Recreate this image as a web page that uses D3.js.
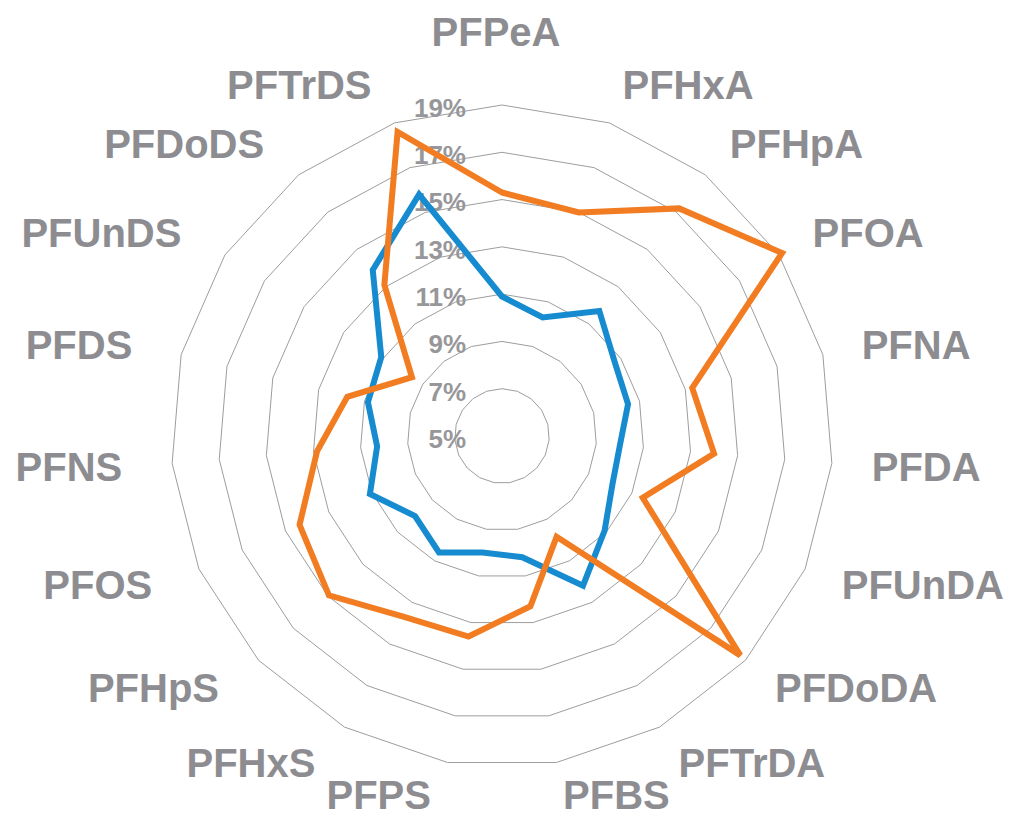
<!DOCTYPE html>
<html>
<head>
<meta charset="utf-8">
<script src="https://cdn.jsdelivr.net/npm/d3@7/dist/d3.min.js"></script>
<style>
  html, body { margin: 0; padding: 0; background: #ffffff; }
  svg { display: block; }
</style>
</head>
<body>
<svg id="chart" width="1010" height="818"></svg>
<script>
const categories = ["PFPeA","PFHxA","PFHpA","PFOA","PFNA","PFDA","PFUnDA","PFDoDA","PFTrDA","PFBS","PFPS","PFHxS","PFHpS","PFOS","PFNS","PFDS","PFUnDS","PFDoDS","PFTrDS"];
const seriesBlue   = [10.9, 10.3, 11.7, 10.7, 10.5, 10.0, 10.1, 10.9, 12.2, 10.2, 10.0, 10.6, 10.0, 11.1, 10.3, 10.85, 11.1, 13.9, 15.8];
const seriesOrange = [15.3, 15.0, 17.2, 19.15, 13.3, 14.0, 11.5, 18.7, 9.85, 12.3, 13.6, 13.7, 14.95, 14.35, 12.85, 11.75, 9.55, 13.1, 18.6];
const tickValues = [5, 7, 9, 11, 13, 15, 17, 19];
const tickLabels = ["5%", "7%", "9%", "11%", "13%", "15%", "17%", "19%"];

const svg = d3.select("#chart");
const cx = 502, cy = 436, outerR = 331;
const n = categories.length;

const r = d3.scaleLinear().domain([5, 19]).range([0, outerR]);
const ang = d3.scaleLinear().domain([0, n]).range([0, 2 * Math.PI]);

const g = svg.append("g").attr("transform", `translate(${cx},${cy})`);

// grid polygons
const gridLine = d3.lineRadial()
  .angle((d, i) => ang(i))
  .radius(d => r(d))
  .curve(d3.curveLinearClosed);

g.append("g").selectAll("path")
  .data(tickValues.filter(v => v > 5))
  .join("path")
  .attr("d", v => gridLine(categories.map(() => v)))
  .attr("fill", "none")
  .attr("stroke", "#9d9d9d")
  .attr("stroke-width", 1);

// tick labels
const tickFs = 26;
g.append("g").selectAll("text")
  .data(tickValues)
  .join("text")
  .attr("x", -36)
  .attr("y", v => -r(v) + 2.5 + 0.358 * tickFs)
  .attr("text-anchor", "end")
  .attr("font-family", "'Liberation Sans', Arial, sans-serif")
  .attr("font-weight", "bold")
  .attr("font-size", tickFs)
  .attr("fill", "#97979a")
  .text((v, i) => tickLabels[i]);

// series
const seriesLine = d3.lineRadial()
  .angle((d, i) => ang(i))
  .radius(d => r(d))
  .curve(d3.curveLinearClosed);

const series = [
  { values: seriesBlue, color: "#168bd0" },
  { values: seriesOrange, color: "#f27c21" }
];

g.append("g").selectAll("path")
  .data(series)
  .join("path")
  .attr("d", s => seriesLine(s.values))
  .attr("fill", "none")
  .attr("stroke", s => s.color)
  .attr("stroke-width", 6)
  .attr("stroke-linejoin", "miter");

// category labels
const labelFs = 40;
const labelR = 371;
g.append("g").selectAll("text")
  .data(categories)
  .join("text")
  .each(function(d, i) {
    const a = ang(i);
    const s = Math.sin(a), c = Math.cos(a);
    let x = labelR * s, yc = -labelR * c;
    let anchor = "middle";
    if (Math.abs(s) < 0.05) {
      x -= 6;
      if (c > 0) yc -= 33;
    } else if (s > 0) {
      anchor = "start";
    } else {
      anchor = "end";
      x -= 10;
    }
    if (c < -0.95) yc -= 7;
    d3.select(this)
      .attr("x", x)
      .attr("y", yc + 0.358 * labelFs)
      .attr("text-anchor", anchor);
  })
  .attr("font-family", "'Liberation Sans', Arial, sans-serif")
  .attr("font-weight", "bold")
  .attr("font-size", labelFs)
  .attr("fill", "#8d8d91")
  .text(d => d);
</script>
</body>
</html>
